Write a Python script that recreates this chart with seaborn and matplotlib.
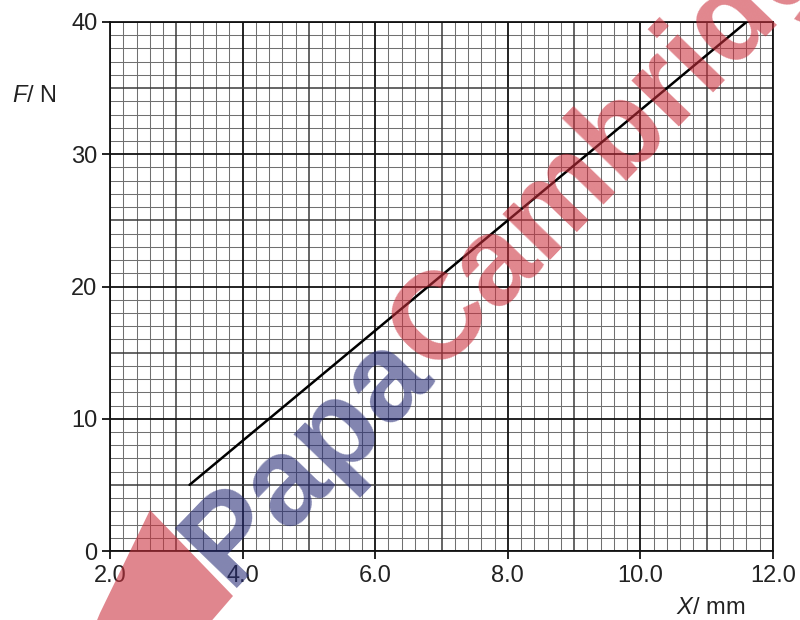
import numpy as np
import pandas as pd
import matplotlib
matplotlib.use("Agg")
import matplotlib.pyplot as plt
import seaborn as sns
from matplotlib.patches import Polygon

# Force-extension line
extension_mm = [3.2, 11.6]
force_N = [5.0, 40.0]

# Axis ticks
x_ticks = [2.0, 4.0, 6.0, 8.0, 10.0, 12.0]
x_tick_labels = ["2.0", "4.0", "6.0", "8.0", "10.0", "12.0"]
y_ticks = [0, 10, 20, 30, 40]
y_tick_labels = ["0", "10", "20", "30", "40"]

sns.set_theme(style="white")
plt.rcParams["font.family"] = ["Liberation Sans", "DejaVu Sans"]
plt.rcParams["mathtext.fontset"] = "custom"
plt.rcParams["mathtext.it"] = "Liberation Sans:italic"
plt.rcParams["mathtext.rm"] = "Liberation Sans"

W, H = 800, 620
fig = plt.figure(figsize=(W / 100, H / 100), dpi=100)
fig.patch.set_facecolor("white")


def px(x, y):
    """Pixel position (from top-left) to figure fraction."""
    return x / W, 1 - y / H


left, top = px(110, 22)
right, bottom = px(773, 551)
ax = fig.add_axes([left, bottom, right - left, top - bottom])
ax.set_facecolor("white")
ax.set_xlim(2, 12)
ax.set_ylim(0, 40)

# graph paper: fine, medium and bold rulings
for v in np.round(np.arange(2.0, 12.001, 0.2), 1):
    if abs(v / 2 - round(v / 2)) < 1e-6:
        ax.axvline(v, color="#111111", lw=1.3, zorder=1)
    elif abs(v - round(v)) < 1e-6:
        ax.axvline(v, color="#3a3a3a", lw=1.1, zorder=1)
    else:
        ax.axvline(v, color="#707070", lw=0.75, zorder=0.5)
for v in range(0, 41):
    if v % 10 == 0:
        ax.axhline(v, color="#111111", lw=1.3, zorder=1)
    elif v % 5 == 0:
        ax.axhline(v, color="#3a3a3a", lw=1.1, zorder=1)
    else:
        ax.axhline(v, color="#707070", lw=0.75, zorder=0.5)

df = pd.DataFrame({"X": extension_mm, "F": force_N})
sns.lineplot(data=df, x="X", y="F", color="black", lw=1.8, ax=ax, zorder=5)

ax.set_xticks(x_ticks, x_tick_labels)
ax.set_yticks(y_ticks, y_tick_labels)
ax.tick_params(axis="both", which="major", direction="out", length=6, width=1.3,
               colors="#111111", labelsize=17, labelcolor="#222222", pad=3)
ax.tick_params(axis="x", bottom=True, pad=4)
ax.tick_params(axis="y", left=True)
ax.set_xlabel("")
ax.set_ylabel("")
for s in ax.spines.values():
    s.set_color("#111111")
    s.set_linewidth(1.3)

# axis labels
fig.text(*px(12, 102), r"$F$/ N", fontsize=17, color="#222222",
         ha="left", va="baseline")
fig.text(*px(676, 614), r"$X$/ mm", fontsize=17, color="#222222",
         ha="left", va="baseline")

# PapaCambridge watermark
angle = 46
fs = 89
alpha = 0.58
renderer = fig.canvas.get_renderer()
probe = fig.text(0, 0, "Papa", fontsize=fs, fontweight="bold")
w_papa = probe.get_window_extent(renderer).width
probe.remove()

ax0, ay0 = px(229, 588)
fig.text(ax0, ay0, "Papa", fontsize=fs, fontweight="bold", color="#262b76",
         alpha=alpha, rotation=angle, rotation_mode="anchor",
         ha="left", va="baseline", zorder=10)
cx = ax0 + w_papa * np.cos(np.radians(angle)) / W
cy = ay0 + w_papa * np.sin(np.radians(angle)) / H
fig.text(cx, cy, "Cambridge", fontsize=fs, fontweight="bold", color="#cb2f3c",
         alpha=alpha, rotation=angle, rotation_mode="anchor",
         ha="left", va="baseline", zorder=10)

shape = [px(150, 510), px(233, 596), px(208, 625), px(95, 625), px(100, 613)]
fig.add_artist(Polygon(shape, closed=True, transform=fig.transFigure,
                       facecolor="#cb2f3c", edgecolor="none", alpha=alpha,
                       zorder=9))

fig.savefig("out.png", dpi=100, facecolor="white")
